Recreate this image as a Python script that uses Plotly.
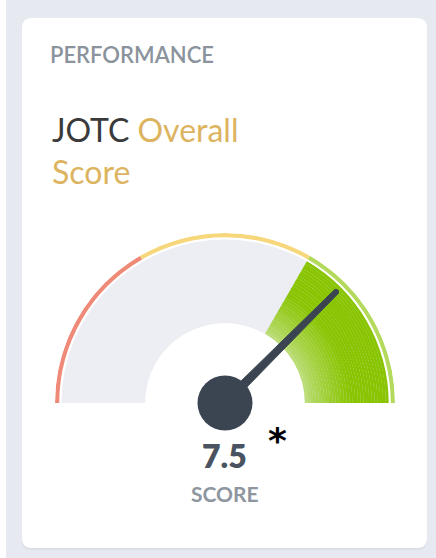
import math
import plotly.graph_objects as go

# ---------------- data ----------------
gauge_min = 0
gauge_max = 10
zone_names = ["Low", "Medium", "High"]
zone_starts = [0, 10 / 3, 20 / 3]
zone_ends = [10 / 3, 20 / 3, 10]
score = 7.5
score_label = "7.5"
card_label = "PERFORMANCE"
title_dark = "JOTC"
title_gold = "Overall"
title_line2 = "Score"
value_caption = "SCORE"
footnote_mark = "*"

# ---------------- style ----------------
W, H = 436, 558
zone_ring_colors = ["#f08a78", "#f6d77c", "#b3da5c"]
fill_gray = "#eceef3"
needle_color = "#3b4552"
R_RING_IN, R_RING_OUT = 0.975, 1.0
R_FILL_IN, R_FILL_OUT = 0.47, 0.962
NEEDLE_LEN = 0.93


def to_theta(v):
    return (v - gauge_min) / (gauge_max - gauge_min) * 180.0


def px(x):
    return x / W


def py(y):
    return 1 - y / H


def lerp_hex(c1, c2, t):
    a = [int(c1[i:i + 2], 16) for i in (1, 3, 5)]
    b = [int(c2[i:i + 2], 16) for i in (1, 3, 5)]
    return "#%02x%02x%02x" % tuple(round(a[k] + (b[k] - a[k]) * t) for k in range(3))


fig = go.Figure()

# gray background band of the gauge
fig.add_trace(go.Barpolar(
    theta=[to_theta((gauge_min + gauge_max) / 2)], width=[180],
    base=[R_FILL_IN], r=[R_FILL_OUT - R_FILL_IN],
    marker=dict(color=fill_gray, line=dict(width=0)),
    hoverinfo="skip", showlegend=False))

# thin zone ring
fig.add_trace(go.Barpolar(
    theta=[to_theta((s + e) / 2) for s, e in zip(zone_starts, zone_ends)],
    width=[to_theta(e) - to_theta(s) for s, e in zip(zone_starts, zone_ends)],
    base=[R_RING_IN] * len(zone_names), r=[R_RING_OUT - R_RING_IN] * len(zone_names),
    marker=dict(color=zone_ring_colors, line=dict(width=0)),
    text=zone_names, hoverinfo="text", showlegend=False))

# highlighted zone (the one containing the score), radial gradient
zi = max(i for i, s in enumerate(zone_starts) if score >= s)
n_steps = 30
step = (R_FILL_OUT - R_FILL_IN) / n_steps
for k in range(n_steps):
    t = k / (n_steps - 1)
    col = lerp_hex("#bcdd78", "#88c500", min(1.0, t / 0.55) ** 0.8)
    fig.add_trace(go.Barpolar(
        theta=[to_theta((zone_starts[zi] + zone_ends[zi]) / 2)],
        width=[to_theta(zone_ends[zi]) - to_theta(zone_starts[zi])],
        base=[R_FILL_IN + k * step], r=[step * 1.05],
        marker=dict(color=col, line=dict(width=0)),
        hoverinfo="skip", showlegend=False))

# needle (tapered) computed from the score
th = to_theta(score)
base_half = 4.5 / 170
tip_half = 2.6 / 170
tip_r = math.hypot(NEEDLE_LEN, tip_half)
tip_d = math.degrees(math.atan2(tip_half, NEEDLE_LEN))
fig.add_trace(go.Scatterpolar(
    r=[base_half, tip_r, NEEDLE_LEN + tip_half * 0.7, tip_r, base_half, base_half],
    theta=[th - 90, th - tip_d, th, th + tip_d, th + 90, th - 90],
    mode="lines", fill="toself", fillcolor=needle_color,
    line=dict(color=needle_color, width=1), cliponaxis=False,
    hoverinfo="skip", showlegend=False))

# hub
fig.add_trace(go.Scatterpolar(
    r=[0], theta=[th], mode="markers",
    marker=dict(size=55, color=needle_color, line=dict(width=0)),
    cliponaxis=False, hoverinfo="skip", showlegend=False))

cx, cy, R = 225, 403, 170
fig.update_layout(
    width=W, height=H,
    margin=dict(l=0, r=0, t=0, b=0),
    paper_bgcolor="#e6e9f0",
    plot_bgcolor="rgba(0,0,0,0)",
    polar=dict(
        domain=dict(x=[px(cx - R), px(cx + R)], y=[py(cy), py(cy - R)]),
        sector=[0, 180], bgcolor="rgba(0,0,0,0)", bargap=0,
        radialaxis=dict(range=[0, 1], visible=False, showgrid=False),
        angularaxis=dict(rotation=180, direction="clockwise", visible=False,
                         showgrid=False, thetaunit="degrees"),
    ),
)


def rounded_rect(x0, y0, x1, y1, rad):
    rx, ry = rad / W, rad / H
    X0, X1 = px(x0), px(x1)
    Y0, Y1 = py(y1), py(y0)  # bottom, top
    return (f"M {X0 + rx},{Y1} L {X1 - rx},{Y1} Q {X1},{Y1} {X1},{Y1 - ry} "
            f"L {X1},{Y0 + ry} Q {X1},{Y0} {X1 - rx},{Y0} L {X0 + rx},{Y0} "
            f"Q {X0},{Y0} {X0},{Y0 + ry} L {X0},{Y1 - ry} Q {X0},{Y1} {X0 + rx},{Y1} Z")


fig.update_layout(shapes=[
    dict(type="rect", xref="paper", yref="paper", x0=0, x1=px(6), y0=0, y1=1,
         fillcolor="white", line=dict(width=0), layer="below"),
    dict(type="path", xref="paper", yref="paper", path=rounded_rect(22, 19, 427, 550, 10),
         fillcolor="#d9dee7", line=dict(width=0), layer="below"),
    dict(type="path", xref="paper", yref="paper", path=rounded_rect(22, 18, 427, 548, 10),
         fillcolor="white", line=dict(width=0), layer="below"),
])

fig.update_layout(annotations=[
    dict(text=card_label, xref="paper", yref="paper", x=px(48), y=py(54),
         xanchor="left", yanchor="middle", showarrow=False,
         font=dict(family="Lato", size=22, color="#8b939d", weight=600)),
    dict(text=f"{title_dark} <span style='color:#dcb460'>{title_gold}</span><br>"
              f"<span style='color:#dcb460'>{title_line2}</span>",
         xref="paper", yref="paper", x=px(50), y=py(108), align="left",
         xanchor="left", yanchor="top", showarrow=False,
         font=dict(family="Lato", size=32, color="#3a3a3a")),
    dict(text=score_label, xref="paper", yref="paper", x=px(225), y=py(455),
         xanchor="center", yanchor="middle", showarrow=False,
         font=dict(family="Lato", size=32, color="#4a5361", weight=800)),
    dict(text=value_caption, xref="paper", yref="paper", x=px(225), y=py(493),
         xanchor="center", yanchor="middle", showarrow=False,
         font=dict(family="Lato", size=21, color="#8e96a0", weight=700)),
    dict(text=footnote_mark, xref="paper", yref="paper", x=px(277), y=py(440),
         xanchor="center", yanchor="middle", showarrow=False,
         font=dict(family="DejaVu Sans", size=36, color="#000000", weight=700)),
])

fig.write_html("out.html", config={"displayModeBar": False, "staticPlot": True},
               post_script="document.body.style.margin='0';document.body.style.overflow='hidden';")
